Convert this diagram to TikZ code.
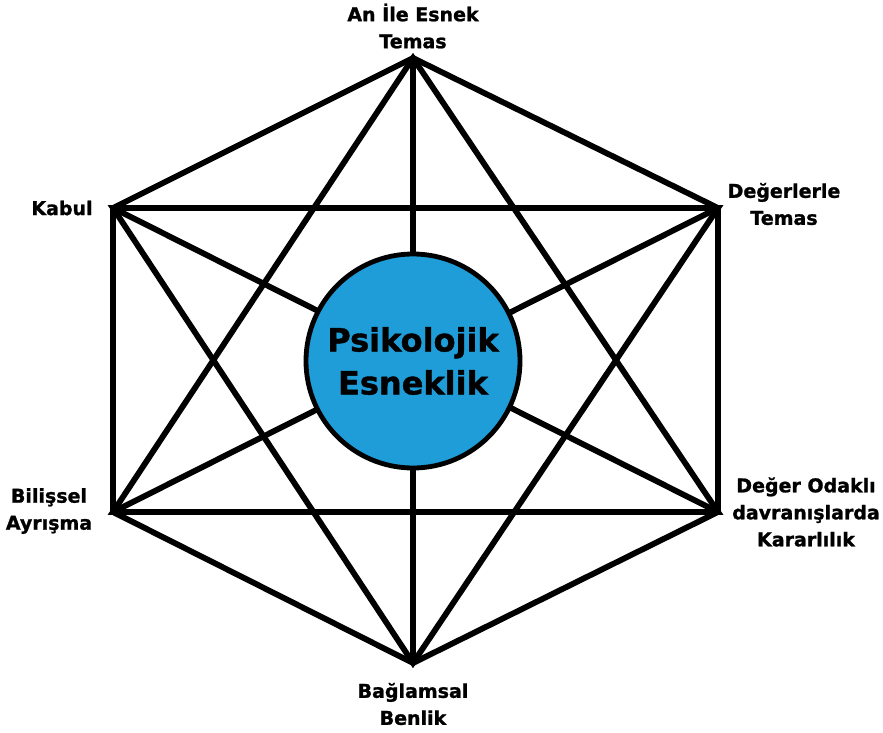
\documentclass[tikz,border=0pt]{standalone}
\usepackage{fontspec}
\setmainfont{DejaVu Sans}[BoldFeatures={FakeBold=1.2}]
\definecolor{coreblue}{RGB}{30,157,216}
\tikzset{
  edge/.style={line width=5.8pt, line join=miter, black},
  lbl/.style={align=center, font=\bfseries\fontsize{19}{27}\selectfont},
}

\begin{document}
\begin{tikzpicture}[x=1pt,y=1pt]
\useasboundingbox (0,0) rectangle (883,732);

\coordinate (top) at (413,674);
\coordinate (upright) at (718,524);
\coordinate (lowright) at (718,220);
\coordinate (bottom) at (413,69);
\coordinate (lowleft) at (113,220);
\coordinate (upleft) at (113,524);

\draw[edge] (top) -- (upright) -- (lowright) -- (bottom) -- (lowleft) -- (upleft) -- cycle;
\draw[edge] (top) -- (lowright) -- (lowleft) -- cycle;
\draw[edge] (bottom) -- (upleft) -- (upright) -- cycle;
\draw[edge] (top) -- (bottom);
\draw[edge] (upleft) -- (lowright);
\draw[edge] (upright) -- (lowleft);

\node[circle, draw=black, line width=4.8pt, fill=coreblue, minimum size=214pt, inner sep=0pt,
  align=center, font=\bfseries\fontsize{32}{43}\selectfont] (core) at (413,371) {Psikolojik\\Esneklik};

\node[lbl] (temas) at (413,706) {An İle Esnek\\Temas};
\node[lbl] (kabul) at (62,524) {Kabul};
\node[lbl] (degerler) at (784,528) {Değerlerle\\Temas};
\node[lbl] (kararlilik) at (806,220) {Değer Odaklı\\davranışlarda\\Kararlılık};
\node[lbl] (ayrisma) at (49,221) {Bilişsel\\Ayrışma};
\node[lbl] (benlik) at (413,28) {Bağlamsal\\Benlik};
\end{tikzpicture}
\end{document}
